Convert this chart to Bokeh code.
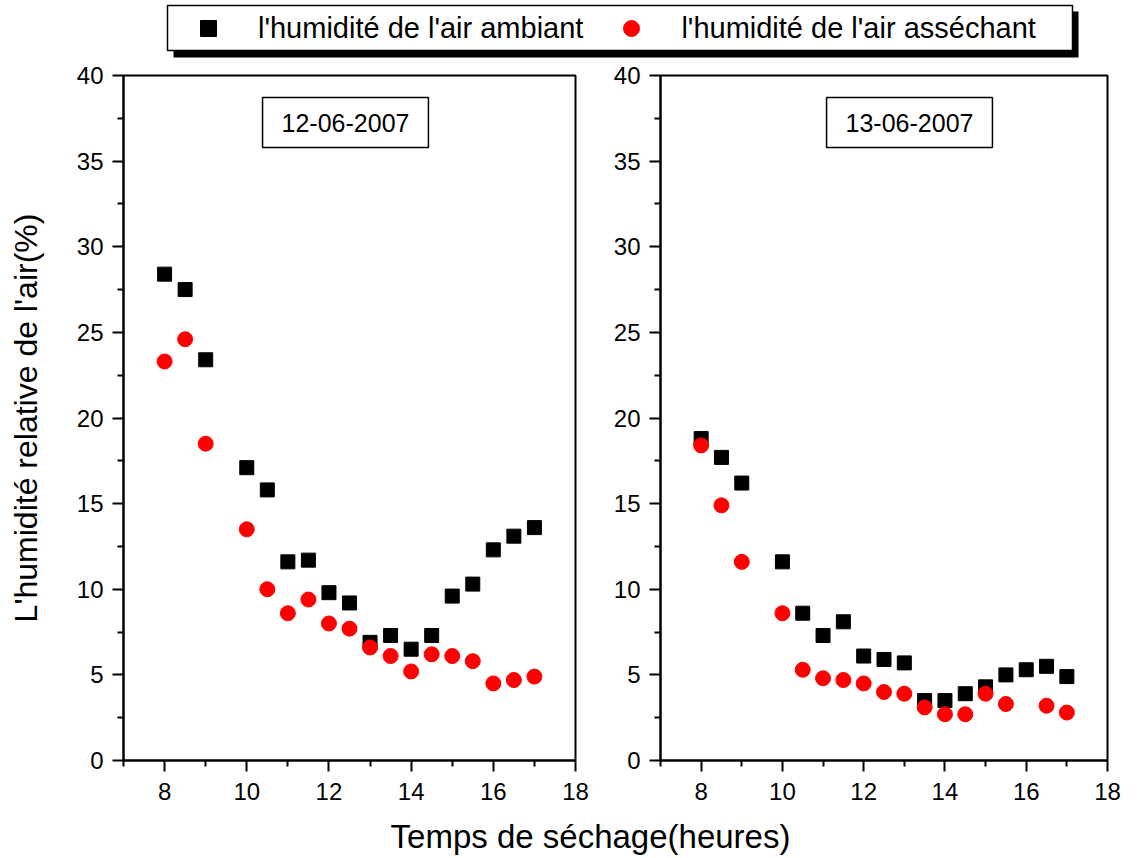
from bokeh.plotting import figure
from bokeh.models import FixedTicker, Range1d, Label, Legend, LegendItem, BoxAnnotation
from bokeh.layouts import column, row
from bokeh.embed import file_html
from bokeh.resources import INLINE

FONT = "Liberation Sans"

hours = [8, 8.5, 9, 10, 10.5, 11, 11.5, 12, 12.5, 13, 13.5, 14, 14.5, 15, 15.5, 16, 16.5, 17]
day1_ambient = [28.4, 27.5, 23.4, 17.1, 15.8, 11.6, 11.7, 9.8, 9.2, 6.9, 7.3, 6.5, 7.3, 9.6, 10.3, 12.3, 13.1, 13.6]
day1_drying = [23.3, 24.6, 18.5, 13.5, 10.0, 8.6, 9.4, 8.0, 7.7, 6.6, 6.1, 5.2, 6.2, 6.1, 5.8, 4.5, 4.7, 4.9]

day2_ambient = [18.8, 17.7, 16.2, 11.6, 8.6, 7.3, 8.1, 6.1, 5.9, 5.7, 3.5, 3.5, 3.9, 4.3, 5.0, 5.3, 5.5, 4.9]
hours2_drying = [8, 8.5, 9, 10, 10.5, 11, 11.5, 12, 12.5, 13, 13.5, 14, 14.5, 15, 15.5, 16.5, 17]
day2_drying = [18.4, 14.9, 11.6, 8.6, 5.3, 4.8, 4.7, 4.5, 4.0, 3.9, 3.1, 2.7, 2.7, 3.9, 3.3, 3.2, 2.8]

x_major = [8, 10, 12, 14, 16, 18]
x_minor = [7, 9, 11, 13, 15, 17]
y_major = [0, 5, 10, 15, 20, 25, 30, 35, 40]
y_minor = [2.5, 7.5, 12.5, 17.5, 22.5, 27.5, 32.5, 37.5]

label_ambient = "l'humidité de l'air ambiant"
label_drying = "l'humidité de l'air asséchant"
dates = ["12-06-2007", "13-06-2007"]
y_title = "L'humidité relative de l'air(%)"
x_title = "Temps de séchage(heures)"


def panel(xa, ya, xd, yd, date, width, border_left, border_right, ylabel, date_x):
    p = figure(width=width, height=748, x_range=Range1d(7, 18), y_range=Range1d(0, 40),
               output_backend="svg", toolbar_location=None,
               min_border_left=border_left, min_border_right=border_right,
               min_border_top=13, min_border_bottom=50)
    p.xgrid.grid_line_color = None
    p.ygrid.grid_line_color = None
    p.outline_line_color = "black"
    p.outline_line_width = 2
    p.outline_line_alpha = 1
    p.xaxis.ticker = FixedTicker(ticks=x_major, minor_ticks=x_minor)
    p.yaxis.ticker = FixedTicker(ticks=y_major, minor_ticks=y_minor)
    for ax in (p.xaxis, p.yaxis):
        ax.axis_line_width = 2
        ax.axis_line_color = "black"
        ax.major_tick_line_width = 2
        ax.minor_tick_line_width = 2
        ax.major_tick_line_color = "black"
        ax.minor_tick_line_color = "black"
        ax.major_tick_out = 11
        ax.major_tick_in = 0
        ax.minor_tick_out = 6
        ax.minor_tick_in = 0
        ax.major_label_text_font = FONT
        ax.major_label_text_font_size = "24px"
        ax.major_label_text_color = "black"
    p.xaxis.major_label_standoff = 11
    p.yaxis.major_label_standoff = 9
    if ylabel:
        p.yaxis.axis_label = ylabel
        p.yaxis.axis_label_text_font = FONT
        p.yaxis.axis_label_text_font_size = "32px"
        p.yaxis.axis_label_text_font_style = "normal"
        p.yaxis.axis_label_text_color = "black"
        p.yaxis.axis_label_standoff = 30
    p.scatter(xa, ya, marker="square", size=14, color="black")
    p.scatter(xd, yd, marker="circle", size=15, color="red")
    lab = Label(x=date_x, y=638, x_units="screen", y_units="screen", text=date,
                text_align="center", text_baseline="middle", text_font=FONT,
                text_font_size="25px", text_color="black",
                border_line_color="black", border_line_width=1.5,
                background_fill_color="white",
                padding=dict(left=19, right=19, top=16, bottom=16))
    p.add_layout(lab)
    return p


p1 = panel(hours, day1_ambient, hours, day1_drying, dates[0], 610, 123, 35, y_title, 222)
p2 = panel(hours, day2_ambient, hours2_drying, day2_drying, dates[1], 528, 45, 31, None, 249)

top = figure(width=1138, height=62, x_range=Range1d(0, 1), y_range=Range1d(0, 1),
             output_backend="svg", toolbar_location=None, min_border=0)
top.axis.visible = False
top.grid.visible = False
top.outline_line_color = None
# legend-only renderers (their points fall outside this strip's ranges)
r1 = top.scatter(x=hours[:1], y=day1_ambient[:1], marker="square", size=14, color="black")
r2 = top.scatter(x=hours[:1], y=day1_drying[:1], marker="circle", size=15, color="red")
shadow = BoxAnnotation(left=173, right=1078, bottom=5, top=51,
                       left_units="screen", right_units="screen",
                       bottom_units="screen", top_units="screen",
                       fill_color="black", fill_alpha=1, line_color=None)
frame_box = BoxAnnotation(left=167, right=1072, bottom=12, top=57,
                          left_units="screen", right_units="screen",
                          bottom_units="screen", top_units="screen",
                          fill_color="white", fill_alpha=1, line_color="black",
                          line_width=1.5, line_alpha=1)
top.add_layout(shadow)
top.add_layout(frame_box)
legend = Legend(items=[LegendItem(label=label_ambient, renderers=[r1]),
                       LegendItem(label=label_drying, renderers=[r2])],
                orientation="horizontal", location=(188, 14), margin=0,
                padding=0, spacing=28, label_standoff=30, glyph_width=40, glyph_height=40,
                label_height=40, label_text_font=FONT, label_text_font_size="29px",
                label_text_color="black", label_text_baseline="middle",
                border_line_color=None, background_fill_alpha=0)
top.add_layout(legend)

bottom = figure(width=1138, height=48, x_range=Range1d(0, 1), y_range=Range1d(0, 1),
                output_backend="svg", toolbar_location=None, min_border=0)
bottom.axis.visible = False
bottom.grid.visible = False
bottom.outline_line_color = None
bottom.add_layout(Label(x=590, y=22, x_units="screen", y_units="screen", text=x_title,
                        text_align="center", text_baseline="middle", text_font=FONT,
                        text_font_size="33px", text_color="black"))

layout = column(top, row(p1, p2), bottom)
open("out.html", "w").write(file_html(layout, INLINE))
